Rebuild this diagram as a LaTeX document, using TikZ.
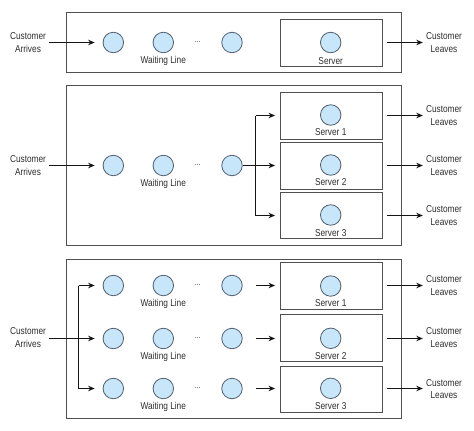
\documentclass[tikz,border=0pt]{standalone}
\usepackage{fontspec}
\setmainfont{Liberation Sans}[FakeStretch=0.83]
\usetikzlibrary{arrows.meta}
\definecolor{cfill}{RGB}{200,230,250}
\definecolor{circc}{RGB}{80,95,110}
\definecolor{boxc}{RGB}{80,80,80}
\definecolor{txt}{RGB}{45,45,45}
\definecolor{arrc}{RGB}{20,20,20}
\tikzset{
  cust/.style={circle, draw=circc, fill=cfill, minimum size=20.5pt, inner sep=0pt, line width=0.8pt},
  srv/.style={draw=boxc, line width=0.9pt, minimum width=102pt, minimum height=47pt, inner sep=0pt},
  panel/.style={draw=boxc, line width=1pt},
  lbl/.style={text=txt, font=\fontsize{10}{12.7}\selectfont, align=center, inner sep=0pt},
  arr/.style={-{Stealth[length=6.5pt,width=5.5pt]}, line width=1.5pt, draw=arrc},
  ln/.style={line width=1.5pt, draw=arrc},
  dotsl/.style={text=txt, font=\fontsize{8}{10}\selectfont, inner sep=0pt}
}
\begin{document}
\begin{tikzpicture}[x=1pt,y=-1pt]
\useasboundingbox (0,0) rectangle (474,431);
% ---------- Panel 1 ----------
\draw[panel] (66.5,12.5) rectangle (401.5,72.5);
\coordinate (r0) at (0,42.5);
\node[lbl] (a1) at (28,42.5) {Customer\\Arrives};
\node[cust] (t1) at (113.3,42.5) {};
\node[cust] (t2) at (163.3,42.5) {};
\node[dotsl] (td) at (197.7,42) {...};
\node[cust] (t3) at (232,42.5) {};
\node[lbl] (tw) at (163.3,61) {Waiting Line};
\node[srv] (ts) at (331.5,43) {};
\node[cust] (tsc) at (330.7,42.5) {};
\node[lbl] (tsl) at (330.7,60.7) {Server};
\node[lbl] (l1) at (444,42.5) {Customer\\Leaves};
\draw[arr, shorten <=3pt, shorten >=8pt] (a1.east |- r0) -- (t1.west |- r0);
\draw[arr, shorten <=4pt, shorten >=3pt] (ts.east |- r0) -- (l1.west |- r0);

% ---------- Panel 2 ----------
\draw[panel] (66.5,85.5) rectangle (401.5,245.5);
\node[lbl] (a2) at (28,165.5) {Customer\\Arrives};
\node[cust] (m1) at (113.3,165.5) {};
\node[cust] (m2) at (163.3,165.5) {};
\node[dotsl] (md) at (197.7,165) {...};
\node[cust] (m3) at (232,165.5) {};
\node[lbl] (mw) at (163.3,184) {Waiting Line};
\node[srv] (ms1) at (331.5,116) {};
\node[srv] (ms2) at (331.5,166) {};
\node[srv, minimum height=46pt] (ms3) at (331.5,215.5) {};
\node[cust] (ms1c) at (330.7,115) {};
\node[cust] (ms2c) at (330.7,165) {};
\node[cust] (ms3c) at (330.7,215) {};
\node[lbl] (ms1l) at (330.7,132.3) {Server 1};
\node[lbl] (ms2l) at (330.7,182.3) {Server 2};
\node[lbl] (ms3l) at (330.7,232.7) {Server 3};
\node[lbl] (l2a) at (444,115.8) {Customer\\Leaves};
\node[lbl] (l2b) at (444,165.6) {Customer\\Leaves};
\node[lbl] (l2c) at (444,215.5) {Customer\\Leaves};
\coordinate (mj) at (255.5,165.5);
\coordinate (mjt) at (255.5,115.5);
\coordinate (mjb) at (255.5,215.5);
\draw[arr, shorten <=3pt, shorten >=8pt] (a2.east |- mj) -- (m1.west |- mj);
\draw[ln] (m3.east) -- (mj);
\draw[ln] (mjt) -- (mjb);
\draw[arr, shorten >=5pt] (mjt) -- (ms1.west |- mjt);
\draw[arr, shorten >=5pt] (mj) -- (ms2.west |- mj);
\draw[arr, shorten >=5pt] (mjb) -- (ms3.west |- mjb);
\draw[arr, shorten <=4pt, shorten >=3pt] (ms1.east |- mjt) -- (l2a.west |- mjt);
\draw[arr, shorten <=4pt, shorten >=3pt] (ms2.east |- mj) -- (l2b.west |- mj);
\draw[arr, shorten <=4pt, shorten >=3pt] (ms3.east |- mjb) -- (l2c.west |- mjb);

% ---------- Panel 3 ----------
\draw[panel] (66.5,259.5) rectangle (401.5,418.5);
\node[lbl] (a3) at (28,337.5) {Customer\\Arrives};
\foreach \r/\y in {1/285.5, 2/338.5, 3/388.5}{
  \node[cust] (b\r1) at (113.3,\y) {};
  \node[cust] (b\r2) at (163.3,\y) {};
  \node[dotsl] (b\r d) at (197.7,\y-0.5) {...};
  \node[cust] (b\r3) at (232,\y) {};
  \node[lbl] (b\r w) at (163.3,\y+18.4) {Waiting Line};
}
\node[srv] (bs1) at (331.5,286) {};
\node[srv] (bs2) at (331.5,338) {};
\node[srv, minimum height=46pt] (bs3) at (331.5,389.5) {};
\node[cust] (bs1c) at (330.7,286) {};
\node[cust] (bs2c) at (330.7,338.3) {};
\node[cust] (bs3c) at (330.7,388.3) {};
\node[lbl] (bs1l) at (330.7,303.3) {Server 1};
\node[lbl] (bs2l) at (330.7,356) {Server 2};
\node[lbl] (bs3l) at (330.7,406) {Server 3};
\node[lbl] (l3a) at (444,285.8) {Customer\\Leaves};
\node[lbl] (l3b) at (444,337.5) {Customer\\Leaves};
\node[lbl] (l3c) at (444,389.2) {Customer\\Leaves};
\coordinate (bj) at (78.5,338.5);
\coordinate (bjt) at (78.5,285.5);
\coordinate (bjb) at (78.5,388.5);
\draw[ln, shorten <=3pt] (a3.east |- bj) -- (bj);
\draw[ln] (bjt) -- (bjb);
\draw[arr, shorten >=8pt] (bjt) -- (b11.west);
\draw[arr, shorten >=8pt] (bj) -- (b21.west);
\draw[arr, shorten >=8pt] (bjb) -- (b31.west);
\draw[arr, shorten <=13.5pt, shorten >=5pt] (b13.east) -- (bs1.west |- b13.east);
\draw[arr, shorten <=13.5pt, shorten >=5pt] (b23.east) -- (bs2.west |- b23.east);
\draw[arr, shorten <=13.5pt, shorten >=5pt] (b33.east) -- (bs3.west |- b33.east);
\draw[arr, shorten <=4pt, shorten >=3pt] (bs1.east |- b13) -- (l3a.west |- b13);
\draw[arr, shorten <=4pt, shorten >=3pt] (bs2.east |- b23) -- (l3b.west |- b23);
\draw[arr, shorten <=4pt, shorten >=3pt] (bs3.east |- b33) -- (l3c.west |- b33);
\end{tikzpicture}
\end{document}
